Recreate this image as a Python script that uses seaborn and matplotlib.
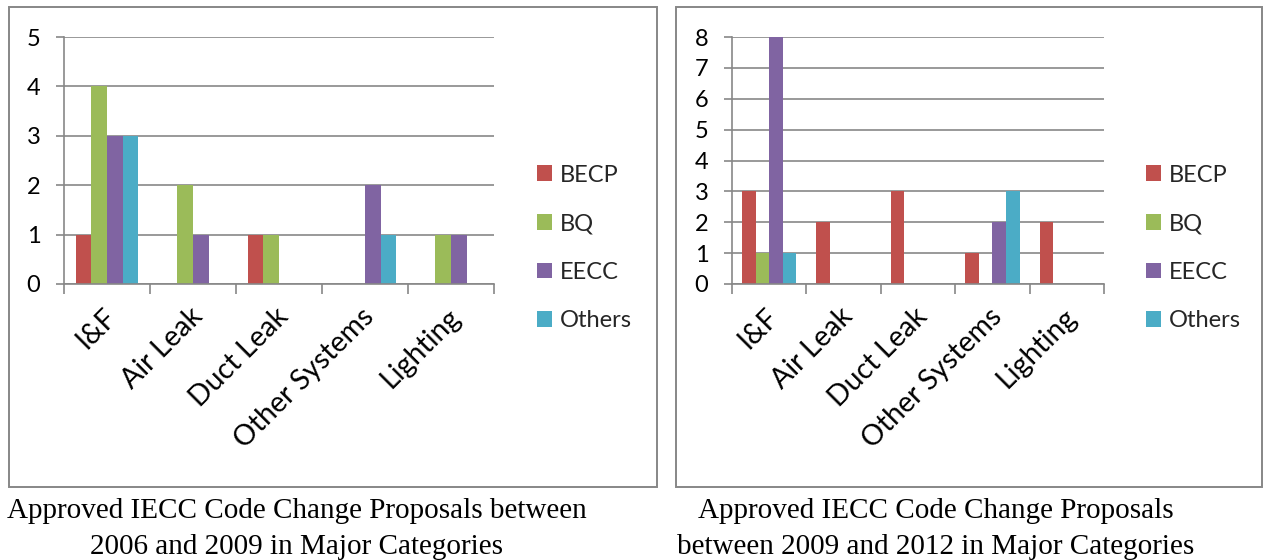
import matplotlib
matplotlib.use("Agg")
import matplotlib.pyplot as plt
from matplotlib.patches import Rectangle
from matplotlib.ticker import FixedLocator
from matplotlib.transforms import ScaledTranslation
import pandas as pd
import seaborn as sns

# Categories and series
categories = ["I&F", "Air Leak", "Duct Leak", "Other Systems", "Lighting"]
series = ["BECP", "BQ", "EECC", "Others"]

# Approved proposals, 2006-2009 cycle
becp_0609 = [1, 0, 1, 0, 0]
bq_0609 = [4, 2, 1, 0, 1]
eecc_0609 = [3, 1, 0, 2, 1]
others_0609 = [3, 0, 0, 1, 0]

# Approved proposals, 2009-2012 cycle
becp_0912 = [3, 2, 3, 1, 2]
bq_0912 = [1, 0, 0, 0, 0]
eecc_0912 = [8, 0, 0, 2, 0]
others_0912 = [1, 0, 0, 3, 0]

caption_0609 = "Approved IECC Code Change Proposals between\n2006 and 2009 in Major Categories"
caption_0912 = "Approved IECC Code Change Proposals\nbetween 2009 and 2012 in Major Categories"

palette = {"BECP": "#C0504D", "BQ": "#9BBB59", "EECC": "#8064A2", "Others": "#4BACC6"}
GRID = "#878787"
LABEL_FONT = ["Lato", "DejaVu Sans"]


def long_table(becp, bq, eecc, others):
    rows = []
    for name, vals in zip(series, [becp, bq, eecc, others]):
        for cat, v in zip(categories, vals):
            rows.append({"Category": cat, "Proposal": name, "Count": v})
    return pd.DataFrame(rows)


sns.set_theme(style="white")
plt.rcParams["font.family"] = LABEL_FONT

W, H = 1267, 560
fig = plt.figure(figsize=(W / 100, H / 100), dpi=100)


def px_rect(x0, y0, x1, y1):
    return [x0 / W, 1 - y1 / H, (x1 - x0) / W, (y1 - y0) / H]


def draw_panel(rect, df, ymax, legend_x):
    ax = fig.add_axes(px_rect(*rect))
    sns.barplot(data=df, x="Category", y="Count", hue="Proposal",
                hue_order=series, order=categories, palette=palette,
                width=0.73, linewidth=0, saturation=1, errorbar=None,
                ax=ax, legend=True)
    ax.set_xlim(-0.5, len(categories) - 0.5)
    ax.set_ylim(0, ymax)
    ax.set_xlabel("")
    ax.set_ylabel("")
    ax.set_yticks(range(ymax + 1))
    ax.grid(axis="y", color=GRID, linewidth=1.2)
    ax.set_axisbelow(True)
    for side in ("top", "right"):
        ax.spines[side].set_visible(False)
    for side in ("left", "bottom"):
        ax.spines[side].set_color(GRID)
        ax.spines[side].set_linewidth(1.2)

    ax.tick_params(axis="y", length=6, width=1.2, color=GRID, pad=11,
                   labelsize=17, labelcolor="black", left=True)
    ax.set_xticks(range(len(categories)))
    ax.set_xticklabels(categories, rotation=45, ha="right", va="top",
                       rotation_mode="anchor", fontsize=20.5)
    ax.tick_params(axis="x", which="major", length=0, pad=14, labelcolor="black")
    ax.xaxis.set_minor_locator(FixedLocator([i - 0.5 for i in range(len(categories) + 1)]))
    ax.tick_params(axis="x", which="minor", length=7, width=1.2, color=GRID, bottom=True)
    for lbl in ax.get_yticklabels() + ax.get_xticklabels():
        lbl.set_family(LABEL_FONT)
    # nudge rotated category labels slightly left
    shift = ScaledTranslation(-4 / 100, 0, fig.dpi_scale_trans)
    for lbl in ax.get_xticklabels():
        lbl.set_transform(lbl.get_transform() + shift)

    handles, labels = ax.get_legend_handles_labels()
    ax.legend(handles, labels, loc="center left",
              bbox_to_anchor=(legend_x / W, 1 - 248 / H),
              bbox_transform=fig.transFigure, frameon=False,
              prop={"family": LABEL_FONT, "size": 17},
              handlelength=0.64, handleheight=0.64, handletextpad=0.32,
              labelspacing=1.17, borderpad=0, borderaxespad=0)
    return ax


draw_panel((64, 37, 494, 284), long_table(becp_0609, bq_0609, eecc_0609, others_0609), 5, 537)
draw_panel((732, 37, 1104, 284), long_table(becp_0912, bq_0912, eecc_0912, others_0912), 8, 1146)

# Chart frames
for x0, x1 in ((9, 657), (676, 1262)):
    fig.patches.append(Rectangle((x0 / W, 1 - 487 / H), (x1 - x0) / W, 480 / H,
                                 transform=fig.transFigure, fill=False,
                                 edgecolor=GRID, linewidth=1.4))

# Captions
for text, xc in ((caption_0609, 297), (caption_0912, 936)):
    fig.text(xc / W, 1 - 529 / H, text, ha="center", va="center",
             family=["Liberation Serif", "DejaVu Serif"], fontsize=21,
             linespacing=1.55, color="black")

fig.savefig("out.png", dpi=100)
